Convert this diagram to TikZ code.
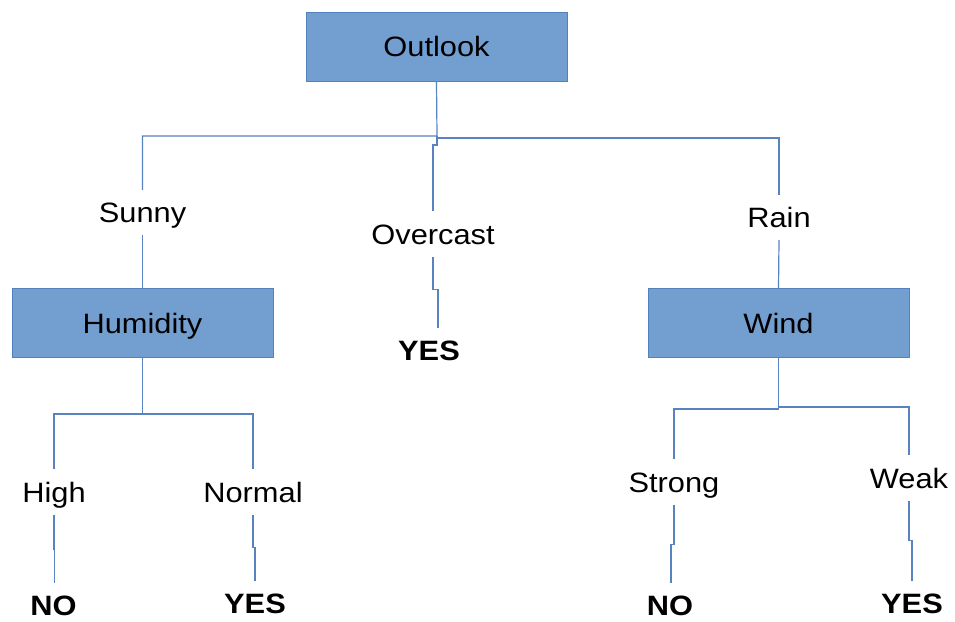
\documentclass[tikz,border=0pt]{standalone}
\usepackage{fontspec}
\setmainfont{Liberation Sans}[FakeStretch=1.1]
\definecolor{boxfill}{RGB}{114,159,207}
\definecolor{boxline}{RGB}{84,128,188}
\definecolor{wire}{RGB}{88,130,192}
\tikzset{
  attr/.style={draw=boxline, line width=1pt, fill=boxfill, minimum width=261pt,
    minimum height=69pt, inner sep=0pt, text height=20pt, text depth=0pt,
    font=\fontsize{28}{32}\selectfont},
  edgelabel/.style={inner xsep=2pt, inner ysep=12.5pt, text height=20pt, text depth=0pt,
    font=\fontsize{28}{32}\selectfont},
  leaf/.style={inner xsep=2pt, inner ysep=12pt, text height=20pt, text depth=0pt,
    font=\fontsize{28}{32}\selectfont\bfseries},
  wiring/.style={draw=wire, line width=1.2pt}
}
\begin{document}
\begin{tikzpicture}[x=1pt, y=-1pt]
\useasboundingbox (0,0) rectangle (955,621);

% decision nodes
\node[attr] (outlook)  at (436.5,46.5) {Outlook};
\node[attr] (humidity) at (142.5,323)  {Humidity};
\node[attr] (wind)     at (778.5,323)  {Wind};

% branch labels
\node[edgelabel] (sunny)    at (142.5,212.5) {Sunny};
\node[edgelabel] (overcast) at (433,234)     {Overcast};
\node[edgelabel] (rain)     at (779,217.5)   {Rain};
\node[edgelabel] (high)     at (54,492)      {High};
\node[edgelabel] (normal)   at (253,492)     {Normal};
\node[edgelabel] (strong)   at (674,482)     {Strong};
\node[edgelabel] (weak)     at (909,478)     {Weak};

% outcomes
\node[leaf] (yes1) at (429,350)   {YES};
\node[leaf] (no1)  at (53.5,605)  {NO};
\node[leaf] (yes2) at (255,603)   {YES};
\node[leaf] (no2)  at (670,605)   {NO};
\node[leaf] (yes3) at (912,603)   {YES};

% Outlook split
\coordinate (jl) at (437,136);
\coordinate (jr) at (437,138);
\draw[wiring] (outlook.south) -- (jl) -| (sunny.north);
\draw[wiring] (jl) -- (jr) -| (rain.north);
\draw[wiring] (jr) -- ++(0,7) -| (overcast.north);
\draw[wiring] (sunny.south) -- (humidity.north);
\draw[wiring] (rain.south) -- (wind.north);
\draw[wiring] (overcast.south) -- ++(0,33) -| ([xshift=9pt]yes1.north);

% Humidity split
\draw[wiring] (humidity.south) -- ++(0,56) coordinate (jh) -| (high.north);
\draw[wiring] (jh) -| (normal.north);
\draw[wiring] (high.south) -- ++(0,35) -| ([xshift=1pt]no1.north);
\draw[wiring] (normal.south) -- ++(0,33) -| (yes2.north);

% Wind split
\draw[wiring] (wind.south) -- ++(0,51) coordinate (jw) -| (strong.north);
\draw[wiring] (wind.south) -- ++(0,49) -| (weak.north);
\draw[wiring] (strong.south) -- ++(0,40) -| ([xshift=1pt]no2.north);
\draw[wiring] (weak.south) -- ++(0,40) -| (yes3.north);
\end{tikzpicture}
\end{document}
